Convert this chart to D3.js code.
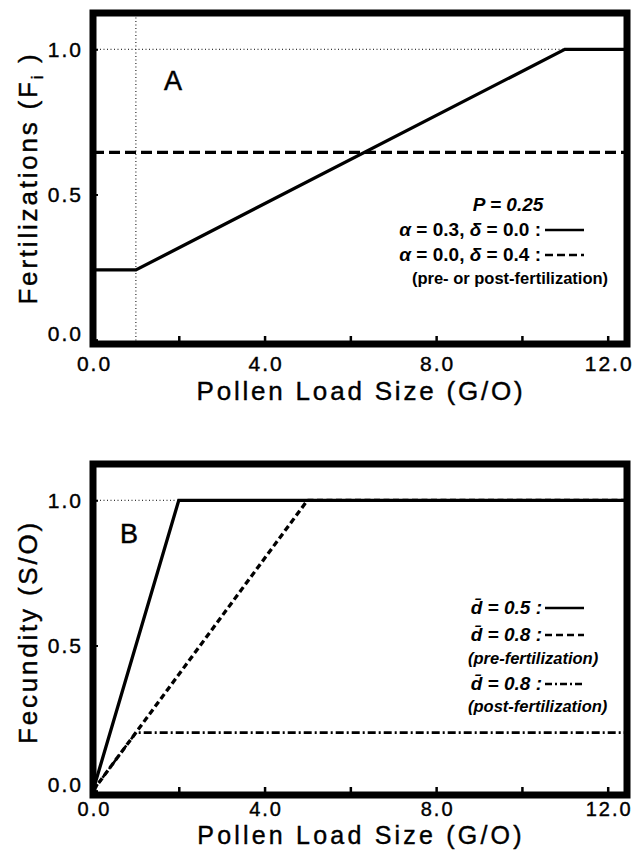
<!DOCTYPE html>
<html lang="en">
<head>
<meta charset="UTF-8">
<title>Fertilizations and fecundity vs pollen load</title>
<style>
  body { margin: 0; background: #fff; }
  svg { display: block; }
  text { font-family: 'Liberation Sans', Arial, sans-serif; fill: #000; }
  .tick text { font-size: 21px; letter-spacing: 2px; stroke: #000; stroke-width: 0.4px; }
  .axTitle { font-size: 26px; letter-spacing: 2.8px; stroke: #000; stroke-width: 0.4px; }
  .panelTag { font-size: 27px; stroke: #000; stroke-width: 0.5px; }
  .leg { font-size: 19px; font-weight: bold; }
  .legSmall { font-size: 16.5px; font-weight: bold; }
  .lower .xlab text { font-size: 20px; }
  .lower .xTitle { font-size: 25px; letter-spacing: 3.2px; }
</style>
</head>
<body>
<div id="fig"></div>
<script src="https://cdnjs.cloudflare.com/ajax/libs/d3/7.8.5/d3.min.js"></script>
<script>
// ---- data ----
const xMax = 12.45;                       // right edge of frame (G/O)
const xLabelTicks = [0, 4, 8, 12];
const xMinorTicks = [2, 4, 6, 8, 10, 12];
const yTicks = [0, 0.5, 1.0];

// panel A : fertilizations
const aSolidX = [0, 1, 11, xMax];          // a = 0.3, delta = 0.0
const aSolidY = [0.24, 0.24, 1.0, 1.0];
const aDashX = [0, xMax];                  // a = 0.0, delta = 0.4
const aDashY = [0.645, 0.645];
const aGuideVX = [1, 1];                   // dotted guides
const aGuideHX = [0, 11];

// panel B : fecundity
const bSolidX = [0, 2, xMax];              // d = 0.5
const bSolidY = [0, 1.0, 1.0];
const bPreX = [0, 5, xMax];                // d = 0.8 pre-fertilization
const bPreY = [0, 1.0, 1.0];
const bPostX = [0, 1, xMax];               // d = 0.8 post-fertilization
const bPostY = [0, 0.2, 0.2];
const bGuideHX = [0, 2];

const width = 637, height = 850;
const svg = d3.select('#fig').append('svg')
    .attr('width', width).attr('height', height);

const x = d3.scaleLinear().domain([0, xMax]).range([93, 627]);
const yDomain = [-0.015, 1.125];

function zip(xs, ys) { return xs.map((v, i) => [v, ys[i]]); }

function panel(top, opts) {
    const y = d3.scaleLinear().domain(yDomain).range([top + 333, top + 2]);
    const g = svg.append('g').attr('class', opts.cls || null);
    const line = d3.line().x(d => x(d[0])).y(d => y(d[1]));

    const clipId = 'clip' + top;
    svg.append('clipPath').attr('id', clipId).append('rect')
        .attr('x', x(0)).attr('y', y(yDomain[1]))
        .attr('width', x(xMax) - x(0)).attr('height', y(yDomain[0]) - y(yDomain[1]));
    const plot = g.append('g').attr('clip-path', 'url(#' + clipId + ')');

    // dotted guides
    (opts.guides || []).forEach(s => {
        plot.append('path').attr('d', line(s))
            .attr('fill', 'none').attr('stroke', '#000')
            .attr('stroke-width', 1).attr('stroke-dasharray', '1,2.5');
    });

    // series
    opts.series.forEach(s => {
        plot.append('path').attr('d', line(s.pts))
            .attr('fill', 'none').attr('stroke', '#000')
            .attr('stroke-width', s.w || 3.3)
            .attr('stroke-dasharray', s.dash || null);
    });

    // x axis : minor inward ticks, then labels
    const by = y(yDomain[0]);
    g.append('g').attr('transform', 'translate(0,' + by + ')')
        .call(d3.axisBottom(x).tickValues(xMinorTicks).tickSize(-8).tickFormat(''))
        .call(a => a.select('.domain').remove())
        .call(a => a.selectAll('line').attr('stroke-width', 2.5));
    g.append('g').attr('class', 'xlab').attr('transform', 'translate(0,' + by + ')')
        .call(d3.axisBottom(x).tickValues(xLabelTicks).tickSize(0).tickPadding(opts.tickPad)
            .tickFormat(d3.format('.1f')))
        .call(a => a.select('.domain').remove())
        .call(a => a.selectAll('text').attr('font-size', null).attr('font-family', null)
            .attr('dy', '0.9em').attr('dx', 1));

    // y axis
    g.append('g').attr('transform', 'translate(' + x(0) + ',0)')
        .call(d3.axisLeft(y).tickValues(yTicks).tickSize(-5).tickPadding(10)
            .tickFormat(d3.format('.1f')))
        .call(a => a.select('.domain').remove())
        .call(a => a.selectAll('line').attr('stroke-width', 2))
        .call(a => a.selectAll('text').attr('font-size', null).attr('font-family', null))
        .call(a => a.selectAll('.tick').filter(d => d === 0).select('text').attr('dy', '0.05em'));

    // frame
    g.append('rect')
        .attr('x', x(0)).attr('y', y(yDomain[1]))
        .attr('width', x(xMax) - x(0)).attr('height', y(yDomain[0]) - y(yDomain[1]))
        .attr('fill', 'none').attr('stroke', '#000').attr('stroke-width', 7);

    // titles
    g.append('text').attr('class', 'axTitle xTitle')
        .attr('x', 361).attr('y', by + opts.xTitleDy).attr('text-anchor', 'middle')
        .text('Pollen Load Size (G/O)');
    const yt = g.append('text').attr('class', 'axTitle')
        .attr('transform', 'translate(37,' + opts.yTitleY + ') rotate(-90)')
        .attr('text-anchor', 'middle');
    opts.yTitle(yt);

    g.append('text').attr('class', 'panelTag')
        .attr('x', opts.tag[1]).attr('y', opts.tag[2])
        .attr('text-anchor', 'middle').text(opts.tag[0]);
    return { g, y };
}

function legLine(g, x1, x2, yy, dash) {
    g.append('line').attr('x1', x1).attr('x2', x2).attr('y1', yy).attr('y2', yy)
        .attr('stroke', '#000').attr('stroke-width', 2.5)
        .attr('stroke-dasharray', dash || null);
}

// ---------- panel A ----------
const A = panel(11, {
    guides: [zip(aGuideVX, [yDomain[0], yDomain[1]]), zip(aGuideHX, [1, 1])],
    series: [
        { pts: zip(aDashX, aDashY), dash: '11,5' },
        { pts: zip(aSolidX, aSolidY) }
    ],
    tickPad: 8,
    xTitleDy: 56,
    yTitleY: 178,
    yTitle: t => {
        t.append('tspan').text('Fertilizations (F');
        t.append('tspan').attr('font-size', 16).attr('dy', 6).text('i');
        t.append('tspan').attr('dy', -6).text(' )');
    },
    tag: ['A', 173, 90]
});

// legend A
const la = A.g.append('g');
la.append('text').attr('class', 'leg').attr('font-style', 'italic').attr('font-size', 20)
    .attr('x', 508).attr('y', 211).attr('text-anchor', 'middle').text('P = 0.25');
[['0.3', '0.0', null, 236], ['0.0', '0.4', '8,4', 261]].forEach(r => {
    const t = la.append('text').attr('class', 'leg').attr('x', 541).attr('y', r[3])
        .attr('text-anchor', 'end');
    t.append('tspan').attr('font-style', 'italic').text('α');
    t.append('tspan').text(' = ' + r[0] + ', ');
    t.append('tspan').attr('font-style', 'italic').text('δ');
    t.append('tspan').text(' = ' + r[1] + ' :');
    legLine(la, 545, 584, r[3] - 6, r[2]);
});
la.append('text').attr('class', 'legSmall')
    .attr('x', 510).attr('y', 284).attr('text-anchor', 'middle')
    .text('(pre- or post-fertilization)');

// ---------- panel B ----------
const B = panel(462, {
    cls: 'lower',
    guides: [zip(bGuideHX, [1, 1])],
    series: [
        { pts: zip(bPostX, bPostY), dash: '8,3,2,3', w: 2.6 },
        { pts: zip(bPreX, bPreY), dash: '6,3.5' },
        { pts: zip(bSolidX, bSolidY) }
    ],
    tickPad: 3,
    xTitleDy: 49,
    yTitleY: 632,
    yTitle: t => t.text('Fecundity (S/O)'),
    tag: ['B', 129, 543]
});

const lb = B.g.append('g');
[['0.5', null, 614], ['0.8', '7,4', 641], ['0.8', '7,3,2,3', 690]].forEach(r => {
    const t = lb.append('text').attr('class', 'leg').attr('font-style', 'italic')
        .attr('x', 542).attr('y', r[2]).attr('text-anchor', 'end');
    t.append('tspan').text('d\u0304');
    t.append('tspan').text(' = ' + r[0] + ' :');
    legLine(lb, 545, 584, r[2] - 6, r[1]);
});
lb.append('text').attr('class', 'legSmall').attr('font-style', 'italic')
    .attr('x', 468).attr('y', 664).text('(pre-fertilization)');
lb.append('text').attr('class', 'legSmall').attr('font-style', 'italic')
    .attr('x', 468).attr('y', 712).text('(post-fertilization)');
</script>
</body>
</html>
